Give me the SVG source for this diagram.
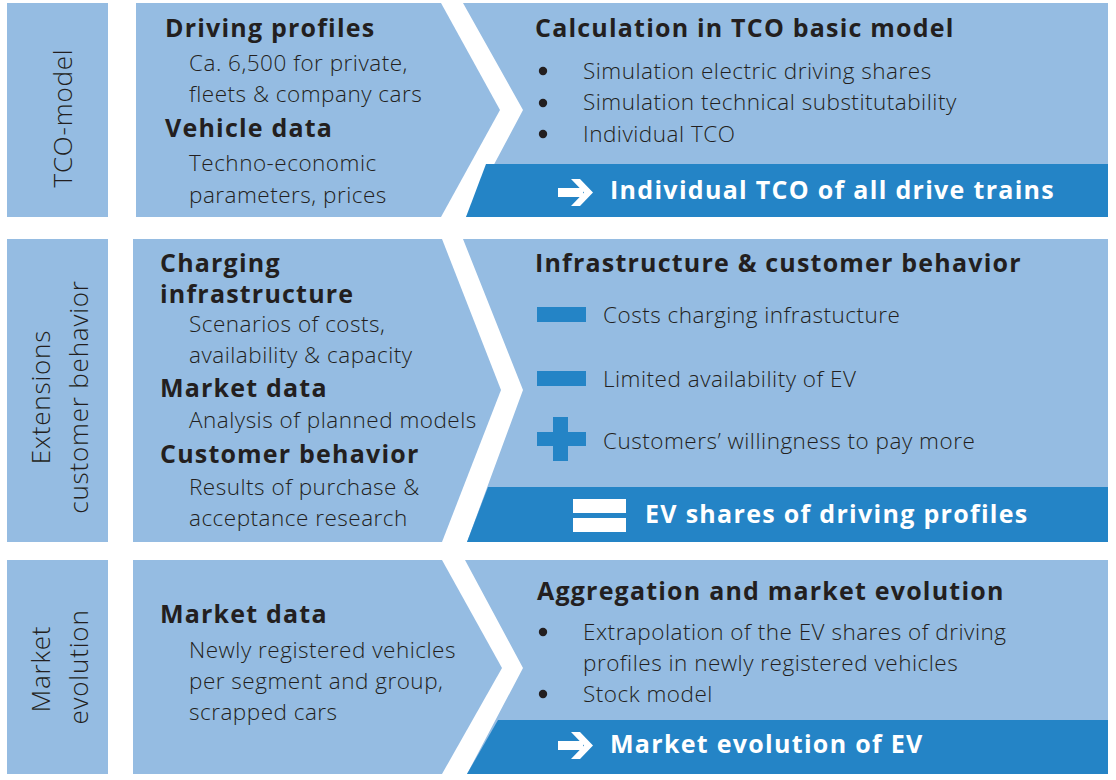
<svg xmlns="http://www.w3.org/2000/svg" width="1116" height="780" viewBox="0 0 1116 780">
<defs>
<style>
.lb{fill:#95bce2}
.db{fill:#2484c6}
.t{font-family:"Open Sans","Noto Sans","DejaVu Sans",sans-serif;fill:#231f20}
.h{font-size:25px;font-weight:700;letter-spacing:1.2px}
.b{font-size:22.5px;font-weight:300;letter-spacing:0.5px}
.lab{font-size:26px;font-weight:300;letter-spacing:0.8px;text-anchor:middle}
.w{fill:#ffffff;font-size:25px;font-weight:700;letter-spacing:1.3px}
.ic{fill:#2484c6}
</style>
<g id="arrowIcon">
<rect x="0" y="-4.5" width="25" height="9" fill="#ffffff"/>
<polygon points="13,-13.5 22,-13.5 35,0 22,13.5 13,13.5 26,0" fill="#ffffff"/>
</g>
</defs>
<rect width="1116" height="780" fill="#ffffff"/>

<g id="row1">
<g id="label-tco">
<rect class="lb" x="7" y="3" width="101" height="214"/>
<text class="t lab" transform="translate(72,118) rotate(-90)">TCO-model</text>
</g>
<g id="input-tco">
<polygon class="lb" points="136,3 441,3 500,110 441,217 136,217"/>
<text class="t h" x="165" y="37">Driving profiles</text>
<text class="t b" x="189" y="71">Ca. 6,500 for private,</text>
<text class="t b" x="189" y="102">fleets &amp; company cars</text>
<text class="t h" x="165" y="137">Vehicle data</text>
<text class="t b" x="189" y="171">Techno-economic</text>
<text class="t b" x="189" y="203">parameters, prices</text>
</g>
<g id="calc-tco">
<polygon class="lb" points="463,3 1108,3 1108,217 466,217 523,110"/>
<text class="t h" x="535" y="37">Calculation in TCO basic model</text>
<circle cx="543" cy="71" r="4.2" fill="#231f20"/>
<circle cx="543" cy="103" r="4.2" fill="#231f20"/>
<circle cx="543" cy="134" r="4.2" fill="#231f20"/>
<text class="t b" x="583" y="79">Simulation electric driving shares</text>
<text class="t b" x="583" y="110">Simulation technical substitutability</text>
<text class="t b" x="583" y="142">Individual TCO</text>
<polygon class="db" points="486,164 1108,164 1108,217 466,217"/>
<use href="#arrowIcon" transform="translate(558,192.5)"/>
<text class="t w" x="610" y="199">Individual TCO of all drive trains</text>
</g>
</g>

<g id="row2">
<g id="label-ext">
<rect class="lb" x="7" y="239" width="101" height="303"/>
<text class="t lab" transform="translate(50,397) rotate(-90)">Extensions</text>
<text class="t lab" transform="translate(88,397) rotate(-90)">customer behavior</text>
</g>
<g id="input-ext">
<polygon class="lb" points="133,239 442,239 501,390 442,542 133,542"/>
<text class="t h" x="160" y="272">Charging</text>
<text class="t h" x="160" y="303">infrastructure</text>
<text class="t b" x="189" y="332">Scenarios of costs,</text>
<text class="t b" x="189" y="363">availability &amp; capacity</text>
<text class="t h" x="160" y="397">Market data</text>
<text class="t b" x="189" y="428">Analysis of planned models</text>
<text class="t h" x="160" y="463">Customer behavior</text>
<text class="t b" x="189" y="495">Results of purchase &amp;</text>
<text class="t b" x="189" y="526">acceptance research</text>
</g>
<g id="calc-ext">
<polygon class="lb" points="463,239 1108,239 1108,542 467,542 523,390"/>
<text class="t h" x="535" y="272">Infrastructure &amp; customer behavior</text>
<rect class="ic" x="537" y="307" width="49" height="15"/>
<rect class="ic" x="537" y="371" width="49" height="15"/>
<rect class="ic" x="537" y="432" width="49" height="14"/>
<rect class="ic" x="553" y="417" width="15" height="44"/>
<text class="t b" x="603" y="323">Costs charging infrastucture</text>
<text class="t b" x="603" y="387">Limited availability of EV</text>
<text class="t b" x="603" y="449">Customers’ willingness to pay more</text>
<polygon class="db" points="488,487 1108,487 1108,542 467,542"/>
<rect x="573" y="499" width="53" height="14" fill="#ffffff"/>
<rect x="573" y="518" width="53" height="14" fill="#ffffff"/>
<text class="t w" x="645" y="523">EV shares of driving profiles</text>
</g>
</g>

<g id="row3">
<g id="label-market">
<rect class="lb" x="7" y="560" width="101" height="214"/>
<text class="t lab" transform="translate(50,669) rotate(-90)">Market</text>
<text class="t lab" transform="translate(88,667) rotate(-90)">evolution</text>
</g>
<g id="input-market">
<polygon class="lb" points="133,560 442,560 502,668 442,774 133,774"/>
<text class="t h" x="160" y="623">Market data</text>
<text class="t b" x="189" y="658">Newly registered vehicles</text>
<text class="t b" x="189" y="689">per segment and group,</text>
<text class="t b" x="189" y="720">scrapped cars</text>
</g>
<g id="calc-market">
<polygon class="lb" points="465,560 1108,560 1108,774 467,774 523,668"/>
<text class="t h" x="537" y="600">Aggregation and market evolution</text>
<circle cx="543" cy="632" r="4.2" fill="#231f20"/>
<circle cx="543" cy="694" r="4.2" fill="#231f20"/>
<text class="t b" x="583" y="640">Extrapolation of the EV shares of driving</text>
<text class="t b" x="583" y="671">profiles in newly registered vehicles</text>
<text class="t b" x="583" y="702">Stock model</text>
<polygon class="db" points="498,720 1108,720 1108,774 467,774"/>
<use href="#arrowIcon" transform="translate(558,745.5)"/>
<text class="t w" x="610" y="753">Market evolution of EV</text>
</g>
</g>

<g id="connectors"></g>
</svg>
